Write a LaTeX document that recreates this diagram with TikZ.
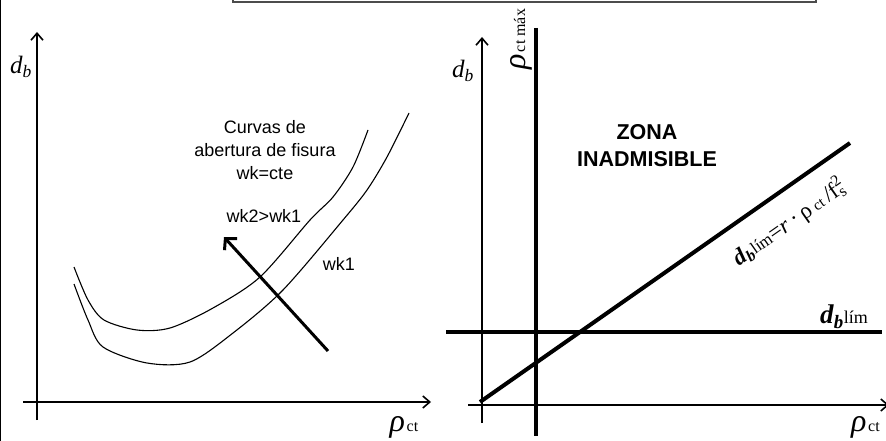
\documentclass[tikz,border=0pt]{standalone}
\usepackage{fontspec}
\setmainfont{Liberation Serif}
\newfontfamily\arialfont{Liberation Sans}
\usetikzlibrary{arrows.meta}
\tikzset{
  axis/.style={line width=1.6pt,-{Straight Barb[length=7pt,width=12pt,line width=1.6pt]}},
  limit/.style={line width=4pt},
  fisura/.style={line width=1.1pt},
  sanstext/.style={font=\arialfont\fontsize{18}{23}\selectfont,align=center,inner sep=0pt},
  bigsym/.style={font=\fontsize{25}{28}\selectfont,inner sep=0pt},
}
\newcommand{\rhoct}[1]{{\fontsize{32}{34}\selectfont\textit{ρ}}\,{\fontsize{16}{17}\selectfont #1}}
\begin{document}
\begin{tikzpicture}[x=1pt,y=-1pt]
  \useasboundingbox (0,0) rectangle (886,441);
  % frame bits
  \draw[gray!60!black,line width=1.3pt] (233,-5) -- (233,2) -- (816,2) -- (816,-5);
  \draw[line width=1.5pt] (0.7,0) -- (0.7,441);
  % left chart: axes
  \coordinate (lo) at (37,420);
  \coordinate (ltop) at (37,32);
  \coordinate (lxa) at (23,402);
  \coordinate (lxb) at (431,402);
  \draw[axis] (lo) -- (ltop);
  \draw[axis] (lxa) -- (lxb);
  \node[bigsym] (ldb) at (21,67) {\textit{d}\textsubscript{\textit{b}}};
  \node[inner sep=0pt] (lrho) at (404,427) {\rhoct{ct}};
  % crack width curves
  \draw[fisura] plot[smooth] coordinates {(74,267) (88,300) (104,320) (137,330) (170,328) (213,308) (260,277) (310,220) (333,197) (353,167) (368,130)};
  \draw[fisura] plot[smooth] coordinates {(74,284) (88,320) (103,347) (147,363) (190,362) (233,333) (283,290) (343,220) (367,190) (387,157) (409,113)};
  \coordinate (wa) at (328,351);
  \coordinate (wb) at (224,237);
  \draw[line width=3pt,-{Straight Barb[length=8pt,width=17pt,line width=3pt]}] (wa) -- (wb);
  \node[sanstext] (curvas) at (265,150) {Curvas de\\abertura de fisura\\wk=cte};
  \node[sanstext] (wkdos) at (264,216) {wk2>wk1};
  \node[sanstext] (wkuno) at (339,264) {wk1};
  % right chart: axes
  \coordinate (ro) at (482,423);
  \coordinate (rtop) at (482,37);
  \coordinate (rxa) at (468,405);
  \coordinate (rxb) at (889,405);
  \draw[axis] (ro) -- (rtop);
  \draw[axis] (rxa) -- (rxb);
  \node[bigsym] (rdb) at (463,71) {\textit{d}\textsubscript{\textit{b}}};
  \node[inner sep=0pt,anchor=west] (rrho) at (851,427) {\rhoct{ct}};
  % limits
  \coordinate (ma) at (536,28);
  \coordinate (mb) at (536,436);
  \draw[limit] (ma) -- (mb);
  \node[inner sep=0pt,rotate=90] (rhomax) at (521,39) {\rhoct{ct máx}};
  \coordinate (ha) at (446,332);
  \coordinate (hb) at (882,332);
  \draw[limit] (ha) -- (hb);
  \node[font=\fontsize{27}{30}\selectfont,inner sep=0pt,anchor=east] (dlim) at (868,317) {\textbf{\textit{d}}\textsubscript{\textbf{\textit{b}}}{\fontsize{18}{19}\selectfont lím}};
  \coordinate (da) at (480,402);
  \coordinate (db) at (850,143);
  \draw[limit] (da) -- (db);
  \node[font=\fontsize{23}{26}\selectfont,rotate=35,inner sep=0pt] (dform) at (789,222)
    {\textbf{\textit{d}}\textsubscript{\textbf{\textit{b}}}{\fontsize{17}{18}\selectfont lím}=\textit{r}\,·\,ρ\,{\fontsize{15}{16}\selectfont ct}\,/f\rlap{\textsubscript{s}}\textsuperscript{2}};
  % zone label
  \node[sanstext,font=\arialfont\bfseries\fontsize{21.5}{27}\selectfont] (zona) at (647,146) {ZONA\\INADMISIBLE};
\end{tikzpicture}
\end{document}
